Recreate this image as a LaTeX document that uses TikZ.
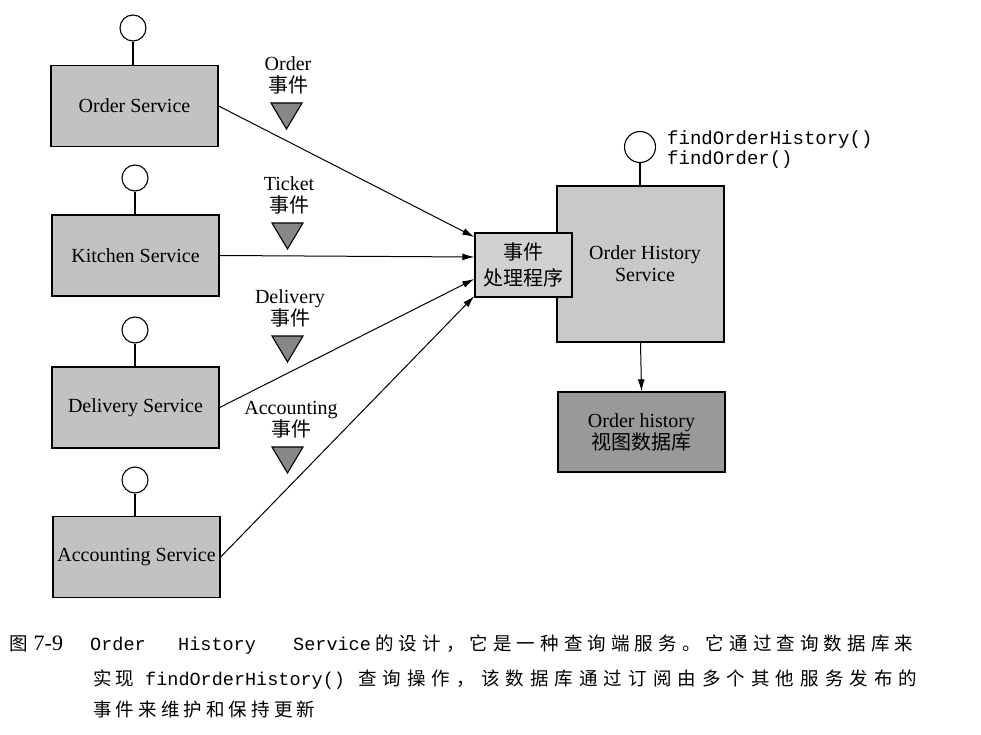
\documentclass[tikz,border=0pt]{standalone}
\usepackage{fontspec}
\setmainfont{Liberation Serif}
\setmonofont{Liberation Mono}
\newfontfamily\cjk{Noto Sans CJK SC}
\usetikzlibrary{arrows.meta}
\definecolor{svcgray}{gray}{0.76}
\definecolor{hdlgray}{gray}{0.82}
\definecolor{ohsgray}{gray}{0.79}
\definecolor{dbgray}{gray}{0.60}
\definecolor{trigray}{gray}{0.53}
\let\cjkend\relax
\def\cjkloop#1{\ifx\cjkend#1\else\hfil#1\expandafter\cjkloop\fi}
\def\cjkfirst#1{#1\cjkloop}
\def\cjkjust#1#2{\hbox to #1{\cjkfirst#2\cjkend}}
\tikzset{
  svc/.style={draw=black, line width=1.3pt, fill=svcgray, minimum width=167pt,
    minimum height=81pt, inner sep=0pt, font=\fontsize{20}{22}\selectfont},
  ohsbox/.style={svc, fill=ohsgray, minimum height=156pt, align=center},
  dbbox/.style={svc, fill=dbgray, minimum height=80pt, align=center},
  hdl/.style={draw=black, line width=1.3pt, fill=hdlgray, minimum width=97pt,
    minimum height=64pt, inner sep=0pt, align=center,
    font=\cjk\fontsize{20}{25.5}\selectfont},
  port/.style={circle, draw=black, line width=1.1pt, fill=white, minimum size=26pt, inner sep=0pt},
  stem/.style={line width=1.1pt},
  flow/.style={line width=1pt, -{Latex[length=12pt,width=7pt]}},
  tri/.style={draw=black, line width=1.1pt, fill=trigray, line join=miter},
  evl/.style={align=center, inner sep=0pt, font=\fontsize{20}{22}\selectfont},
  opl/.style={anchor=base west, inner sep=0pt, font=\ttfamily\fontsize{19}{22}\selectfont},
  capcjk/.style={anchor=base west, inner sep=0pt, font=\cjk\fontsize{18.5}{20}\selectfont},
  capmono/.style={anchor=base west, inner sep=0pt, font=\ttfamily\fontsize{18.5}{20}\selectfont},
}
\begin{document}
\begin{tikzpicture}[x=1pt,y=-1pt]
\useasboundingbox[fill=white] (0,0) rectangle (981,735);

% services
\node[svc] (os) at (134.5,106) {Order Service};
\node[svc] (ks) at (135.5,255.5) {Kitchen Service};
\node[svc] (ds) at (135.5,407.5) {Delivery Service};
\node[svc] (as) at (136.5,557) {Accounting Service};

\node[port] (osp) at (133,28) {};
\node[port] (ksp) at (135,178) {};
\node[port] (dsp) at (135,330) {};
\node[port] (asp) at (135,480) {};
\draw[stem] (osp.south) -- (osp.south |- os.north);
\draw[stem] (ksp.south) -- (ksp.south |- ks.north);
\draw[stem] (dsp.south) -- (dsp.south |- ds.north);
\draw[stem] (asp.south) -- (asp.south |- as.north);

% event labels and triangles
\node[evl] (l1) at (288,75) {Order\\{\cjk 事件}};
\node[evl] (l2) at (289,195) {Ticket\\{\cjk 事件}};
\node[evl] (l3) at (290,308.5) {Delivery\\{\cjk 事件}};
\node[evl] (l4) at (291,420) {Accounting\\{\cjk 事件}};
\filldraw[tri] (271,103) -- (302,103) -- (286.5,129) -- cycle;
\filldraw[tri] (272,223) -- (303,223) -- (287.5,249) -- cycle;
\filldraw[tri] (272,336) -- (303,336) -- (287.5,362) -- cycle;
\filldraw[tri] (272,447) -- (303,447) -- (287.5,473) -- cycle;

% order history service
\node[ohsbox] (ohs) at (640.5,264) {\hspace*{9pt}Order History\\\hspace*{9pt}Service};
\node[port, minimum size=31pt] (ohsp) at (640,147) {};
\draw[stem] (ohsp.south) -- (ohsp.south |- ohs.north);
\node[opl] (op1) at (667,145) {findOrderHistory()};
\node[opl] (op2) at (667,165) {findOrder()};

\node[hdl] (eh) at (523.5,265) {事件\\处理程序};

\node[dbbox] (db) at (641.5,432) {Order history\\{\cjk 视图数据库}};

% connectors
\draw[flow] (os.east) -- ([yshift=28pt]eh.west);
\draw[flow] (ks.east) -- ([yshift=8pt]eh.west);
\draw[flow] (ds.east) -- ([yshift=-14pt]eh.west);
\draw[flow] (as.east) -- ([yshift=-31pt]eh.west);
\draw[flow] (ohs.south) -- (db.north);

% caption
\node[capcjk] (c0) at (9,650) {图\hspace{6pt}{\rmfamily\fontsize{22}{24}\selectfont 7-9}};
\node[capmono] (c1) at (90,650) {Order};
\node[capmono] (c2) at (178,650) {History};
\node[capmono] (c3) at (293,650) {Service};
\node[capcjk] (c4) at (375,650) {\cjkjust{538pt}{的设计，它是一种查询端服务。它通过查询数据库来}};
\node[capcjk] (c5) at (93,685) {\cjkjust{41pt}{实现}};
\node[capmono] (c6) at (145,685) {findOrderHistory()};
\node[capcjk] (c7) at (358,685) {\cjkjust{559pt}{查询操作，该数据库通过订阅由多个其他服务发布的}};
\node[capcjk] (c8) at (93,716) {\cjkjust{222pt}{事件来维护和保持更新}};
\end{tikzpicture}
\end{document}
